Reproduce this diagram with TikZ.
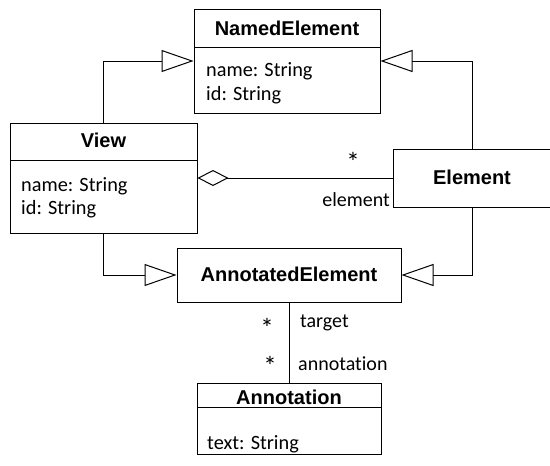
\documentclass[tikz,border=0pt]{standalone}
\usepackage{fontspec}
\setmainfont{Carlito}[Ligatures=NoCommon]
\newfontfamily\headfont{Liberation Sans}
\usetikzlibrary{arrows.meta}
\tikzset{
  classbox/.style={draw, line width=1pt, inner sep=0pt},
  heading/.style={font=\headfont\bfseries\fontsize{20}{24}\selectfont, inner sep=0pt, anchor=base},
  attr/.style={font=\fontsize{20.3}{24}\selectfont, inner sep=0pt, anchor=base west},
  rolelabel/.style={font=\fontsize{20}{24}\selectfont, inner sep=0pt},
  multiplicity/.style={font=\fontsize{27}{30}\selectfont, inner sep=0pt, anchor=center},
  link/.style={line width=1pt},
  generalization/.style={link, -{Triangle[open, length=32pt, width=22pt, line width=1pt]}},
  aggregation/.style={link, {Diamond[open, length=31pt, width=16pt, line width=1pt]}-},
}
\begin{document}
\begin{tikzpicture}[x=1pt, y=-1pt]
\useasboundingbox (0,0) rectangle (550,466);

% class boxes
\node[classbox, minimum width=186pt, minimum height=104pt] (named) at (287,61) {};
\node[classbox, minimum width=187pt, minimum height=110pt] (view) at (103.5,178) {};
\node[classbox, minimum width=158pt, minimum height=58pt] (elem) at (472,178) {};
\node[classbox, minimum width=224pt, minimum height=54pt] (annot) at (289,275) {};
\node[classbox, minimum width=184pt, minimum height=71pt] (note) at (289,418.5) {};

% compartment separators
\draw[link] (194,47) -- (380,47);
\draw[link] (10,160) -- (197,160);
\draw[link] (197,407) -- (381,407);

% class names
\node[heading] (namedT) at (287,35) {NamedElement};
\node[heading] (viewT) at (103.5,147) {View};
\node[heading] (elemT) at (472,184) {Element};
\node[heading] (annotT) at (289,281) {AnnotatedElement};
\node[heading] (noteT) at (289,404) {Annotation};

% attributes
\node[attr] (namedA1) at (206,76) {name: String};
\node[attr] (namedA2) at (206,100) {id: String};
\node[attr] (viewA1) at (21,191) {name: String};
\node[attr] (viewA2) at (21,214) {id: String};
\node[attr] (noteA1) at (207,449) {text: String};

% generalizations
\draw[generalization] (view.north) |- (named.west);
\draw[generalization] (elem.north) |- (named.east);
\draw[generalization] (view.south) |- (annot.west);
\draw[generalization] (elem.south) |- (annot.east);

% aggregation View <>-- Element
\draw[aggregation] (view.east) -- (elem.west);
\node[multiplicity] (m1) at (353,162) {*};
\node[rolelabel, anchor=base east] (r1) at (390,206) {element};

% association AnnotatedElement -- Annotation
\draw[link] (annot.south) -- (note.north);
\node[multiplicity] (m2) at (267,328) {*};
\node[rolelabel, anchor=base west] (r2) at (300,327) {target};
\node[multiplicity] (m3) at (270,366) {*};
\node[rolelabel, anchor=base west] (r3) at (298,370) {annotation};
\end{tikzpicture}
\end{document}
